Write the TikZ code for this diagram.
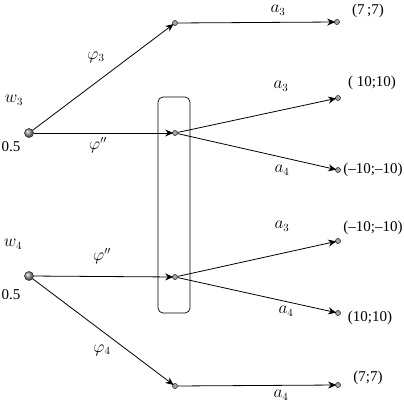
\documentclass[tikz,border=0pt]{standalone}
\usepackage{fontspec}
\setmainfont{Liberation Serif}
\usetikzlibrary{arrows.meta}
\begin{document}
\begin{tikzpicture}[x=1pt,y=-1pt,
  bigdot/.style={circle,draw=black!80,line width=0.6pt,inner sep=0pt,minimum size=9pt,ball color=gray!80},
  smalldot/.style={circle,draw=black!85,line width=0.6pt,fill=gray!70,inner sep=0pt,minimum size=5pt},
  edge/.style={-{Stealth[length=8pt,width=7pt]},line width=0.8pt,shorten >=-1pt},
  lbl/.style={font=\fontsize{15}{17}\selectfont,inner sep=0pt},
  mlbl/.style={font=\fontsize{16}{18}\selectfont,inner sep=0pt},
  box/.style={draw,rounded corners=5pt,line width=0.7pt}]
\useasboundingbox (0,0) rectangle (404,404);
% decision nodes
\node[bigdot] (w3) at (29,133) {};
\node[bigdot] (w4) at (29,276) {};
% intermediate nodes
\node[smalldot] (m1) at (175,23) {};
\node[smalldot] (m2) at (175,133) {};
\node[smalldot] (m3) at (175,277) {};
\node[smalldot] (m4) at (175,386) {};
% terminals
\node[smalldot] (t1) at (337,22) {};
\node[smalldot] (t2) at (338,98) {};
\node[smalldot] (t3) at (338,170) {};
\node[smalldot] (t4) at (338,241) {};
\node[smalldot] (t5) at (338,313) {};
\node[smalldot] (t6) at (338,385) {};
% information set
\node[box,minimum width=32pt,minimum height=216pt] (info) at (174,205) {};
% edges
\draw[edge] (w3) -- (m1);
\draw[edge] (w3) -- (m2);
\draw[edge] (w4) -- (m3);
\draw[edge] (w4) -- (m4);
\draw[edge] (m1) -- (t1);
\draw[edge] (m2) -- (t2);
\draw[edge] (m2) -- (t3);
\draw[edge] (m3) -- (t4);
\draw[edge] (m3) -- (t5);
\draw[edge] (m4) -- (t6);
% labels
\node[mlbl] (lw3) at (14,100) {$w_3$};
\node[lbl] (p1) at (11,147) {0.5};
\node[mlbl] (lw4) at (13,244) {$w_4$};
\node[lbl] (p2) at (11,295) {0.5};
\node[mlbl] (phi3) at (96,57) {$\varphi_3$};
\node[mlbl] (phia) at (98,145) {$\varphi''$};
\node[mlbl] (phib) at (102,256) {$\varphi''$};
\node[mlbl] (phi4) at (102,350) {$\varphi_4$};
\node[mlbl] (a1) at (278,10) {$a_3$};
\node[mlbl] (a2) at (281,86) {$a_3$};
\node[mlbl] (a3) at (282,170) {$a_4$};
\node[mlbl] (a4) at (282,226) {$a_3$};
\node[mlbl] (a5) at (286,311) {$a_4$};
\node[mlbl] (a6) at (281,395) {$a_4$};
\node[lbl] (v1) at (368,11) {(7\,;7)};
\node[lbl] (v2) at (372,83) {( 10;10)};
\node[lbl] (v3) at (373,170) {(\textendash10;\textendash10)};
\node[lbl] (v4) at (373,228) {(\textendash10;\textendash10)};
\node[lbl] (v5) at (370,318) {(10;10)};
\node[lbl] (v6) at (368,378) {(7;7)};
\end{tikzpicture}
\end{document}
